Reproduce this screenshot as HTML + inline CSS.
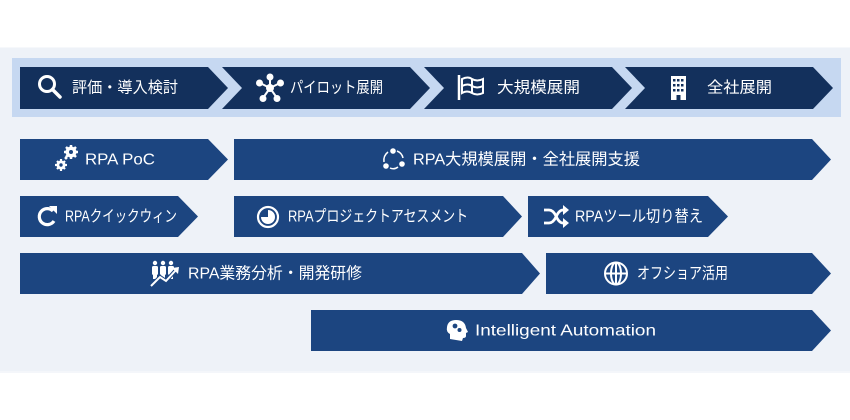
<!DOCTYPE html>
<html><head><meta charset="utf-8">
<style>
html,body{margin:0;padding:0;background:#fff;}
svg{display:block;}
text{font-family:"Liberation Sans","Noto Sans CJK JP",sans-serif;fill:#fff;dominant-baseline:central;}
</style></head>
<body>
<svg width="850" height="420" viewBox="0 0 850 420" xmlns="http://www.w3.org/2000/svg">
<rect x="0" y="0" width="850" height="420" fill="#ffffff"/>
<rect x="0" y="47" width="850" height="1" fill="#f6f8fb"/>
<rect x="0" y="48" width="850" height="323" fill="#eef2f8"/>
<rect x="0" y="371" width="850" height="2" fill="#f4f6fa"/>
<!-- top band -->
<rect x="12" y="58" width="829" height="59" fill="#c6d8f1"/>
<!-- top chevrons -->
<g fill="#13305c">
<polygon points="20,67 208,67 228,88 208,109 20,109"/>
<polygon points="222,67 410,67 430,88 410,109 222,109 242,88"/>
<polygon points="424,67 612,67 632,88 612,109 424,109 444,88"/>
<polygon points="625,67 813,67 833,88 813,109 625,109 645,88"/>
</g>
<text x="72" y="88" font-size="15.5" textLength="106" lengthAdjust="spacingAndGlyphs">評価・導入検討</text>
<text x="290" y="88" font-size="15.5" textLength="93" lengthAdjust="spacingAndGlyphs">パイロット展開</text>
<text x="497" y="88" font-size="15.5" textLength="83" lengthAdjust="spacingAndGlyphs">大規模展開</text>
<text x="707" y="88" font-size="15.5" textLength="65" lengthAdjust="spacingAndGlyphs">全社展開</text>
<!-- top icons -->
<g stroke="#fff" fill="none">
<circle cx="47" cy="84" r="7.5" stroke-width="3"/>
<line x1="52.5" y1="89.5" x2="60" y2="97" stroke-width="3.5" stroke-linecap="round"/>
</g>
<g stroke="#fff" stroke-width="2" fill="#fff">
<line x1="270" y1="88" x2="270" y2="78"/>
<line x1="270" y1="88" x2="260" y2="83"/>
<line x1="270" y1="88" x2="280" y2="83"/>
<line x1="270" y1="88" x2="263" y2="98"/>
<line x1="270" y1="88" x2="277" y2="98"/>
<circle cx="270" cy="88" r="3"/>
<circle cx="270" cy="77" r="2.5"/>
<circle cx="259.5" cy="83" r="2.5"/>
<circle cx="280.5" cy="83" r="2.5"/>
<circle cx="263" cy="98.5" r="2.5"/>
<circle cx="277" cy="98.5" r="2.5"/>
</g>
<g stroke="#fff" fill="none" stroke-width="2">
<line x1="459" y1="75" x2="459" y2="100" stroke-width="2.5"/>
<path d="M462,79 Q468,76 472,79 Q477,82 483,79 L483,93 Q477,96 472,93 Q467,90 462,93 Z"/>
<path d="M462,86 Q468,83 472,86 Q477,89 483,86"/>
<line x1="472" y1="79" x2="472" y2="93"/>
</g>
<g>
<rect x="671" y="76" width="15" height="24" fill="#fff"/>
<g fill="#13305c">
<rect x="673" y="79" width="2.5" height="2.5"/><rect x="677" y="79" width="2.5" height="2.5"/><rect x="681" y="79" width="2.5" height="2.5"/>
<rect x="673" y="84" width="2.5" height="2.5"/><rect x="677" y="84" width="2.5" height="2.5"/><rect x="681" y="84" width="2.5" height="2.5"/>
<rect x="673" y="89" width="2.5" height="2.5"/><rect x="677" y="89" width="2.5" height="2.5"/><rect x="681" y="89" width="2.5" height="2.5"/>
<rect x="676.5" y="95" width="4" height="5"/>
</g>
</g>
<!-- rows -->
<g fill="#1c4580">
<polygon points="20,139 208,139 228,159.5 208,180 20,180"/>
<polygon points="234,139 812,139 831,159.5 812,180 234,180"/>
<polygon points="20,196 178,196 198,216.5 178,237 20,237"/>
<polygon points="234,196 503,196 522,216.5 503,237 234,237"/>
<polygon points="528,196 708,196 728,216.5 708,237 528,237"/>
<polygon points="20,253 522,253 540,273.5 522,294 20,294"/>
<polygon points="546,253 812,253 831,273.5 812,294 546,294"/>
<polygon points="311,310 812,310 831,330.5 812,351 311,351"/>
</g>
<text x="85" y="160" font-size="16" textLength="70" lengthAdjust="spacingAndGlyphs">RPA PoC</text>
<text x="413" y="160" font-size="16" textLength="227" lengthAdjust="spacingAndGlyphs">RPA大規模展開・全社展開支援</text>
<text x="65" y="217" font-size="16" textLength="112" lengthAdjust="spacingAndGlyphs">RPAクイックウィン</text>
<text x="288" y="217" font-size="16" textLength="180" lengthAdjust="spacingAndGlyphs">RPAプロジェクトアセスメント</text>
<text x="575" y="217" font-size="16" textLength="128" lengthAdjust="spacingAndGlyphs">RPAツール切り替え</text>
<text x="188" y="274" font-size="16" textLength="174" lengthAdjust="spacingAndGlyphs">RPA業務分析・開発研修</text>
<text x="637" y="274" font-size="16" textLength="91" lengthAdjust="spacingAndGlyphs">オフショア活用</text>
<text x="475" y="331" font-size="16" textLength="181" lengthAdjust="spacingAndGlyphs">Intelligent Automation</text>
<!-- row icons -->
<!-- gears -->
<g fill="#fff">
<circle cx="71" cy="152" r="5.5"/>
<g stroke="#fff" stroke-width="2.5"><line x1="71" y1="145" x2="71" y2="159"/><line x1="64" y1="152" x2="78" y2="152"/><line x1="66" y1="147" x2="76" y2="157"/><line x1="76" y1="147" x2="66" y2="157"/></g>
<circle cx="71" cy="152" r="2" fill="#1c4580"/>
<circle cx="61" cy="165" r="4.5"/>
<g stroke="#fff" stroke-width="2.2"><line x1="61" y1="159" x2="61" y2="171"/><line x1="55" y1="165" x2="67" y2="165"/><line x1="57" y1="161" x2="65" y2="169"/><line x1="65" y1="161" x2="57" y2="169"/></g>
<circle cx="61" cy="165" r="1.7" fill="#1c4580"/>
<circle cx="66" cy="158" r="1.5"/>
</g>
<!-- cycle -->
<g fill="#fff" stroke="#fff">
<circle cx="393" cy="151" r="2.8" stroke="none"/>
<circle cx="402" cy="164" r="2.8" stroke="none"/>
<circle cx="386" cy="166" r="2.8" stroke="none"/>
<path d="M397,151 Q402,153 403,158" fill="none" stroke-width="1.5"/>
<path d="M398,167 Q394,170 390,168" fill="none" stroke-width="1.5"/>
<path d="M384,162 Q383,156 388,152" fill="none" stroke-width="1.5"/>
</g>
<!-- refresh -->
<g fill="none" stroke="#fff" stroke-width="3.2">
<path d="M53,211 A8,8 0 1 0 54,221"/>
</g>
<polygon points="49,206 57,206 57,214" fill="#fff"/>
<!-- pie -->
<circle cx="268" cy="217" r="10" fill="none" stroke="#fff" stroke-width="2.2"/>
<path d="M268,210 A7,7 0 1 1 261,217 L268,217 Z" fill="#fff"/>
<!-- shuffle -->
<g fill="none" stroke="#fff" stroke-width="2.8">
<path d="M544,210 L549,210 Q553,210 556,216 Q559,223 563,223 L565,223"/>
<path d="M544,223 L549,223 Q553,223 556,217 Q559,210 563,210 L565,210"/>
</g>
<polygon points="563,205 569,210 563,215" fill="#fff"/>
<polygon points="563,218 569,223 563,228" fill="#fff"/>
<!-- people chart -->
<g fill="#fff">
<circle cx="155" cy="263" r="2.2"/><circle cx="163" cy="263" r="2.2"/><circle cx="171" cy="263" r="2.2"/>
<rect x="152" y="266" width="6" height="9" rx="1.5"/><rect x="160" y="266" width="6" height="9" rx="1.5"/><rect x="168" y="266" width="6" height="9" rx="1.5"/>
<rect x="153" y="274" width="4" height="5"/><rect x="161" y="274" width="4" height="5"/><rect x="169" y="274" width="4" height="5"/>
</g>
<polyline points="151,286 160,277 166,281 176,270" fill="none" stroke="#1c4580" stroke-width="4"/>
<polyline points="151,286 160,277 166,281 176,270" fill="none" stroke="#fff" stroke-width="2"/>
<polygon points="172,268 179,267 178,274" fill="#fff"/>
<!-- globe -->
<g fill="none" stroke="#fff" stroke-width="2">
<circle cx="616" cy="273.5" r="11"/>
<ellipse cx="616" cy="273.5" rx="5" ry="11"/>
<line x1="605" y1="273.5" x2="627" y2="273.5"/>
<line x1="616" y1="262.5" x2="616" y2="284.5"/>
</g>
<!-- head -->
<path d="M450,339 L450,334 Q446,332 447,327 Q448,320 456,320 Q465,320 466,328 L468,332 L466,333 L466,336 Q466,338 463,338 L462,341 Z" fill="#fff"/>
<circle cx="455" cy="326" r="2.4" fill="#1c4580"/>
<circle cx="459.5" cy="330" r="2" fill="#1c4580"/>
</svg>
</body></html>
